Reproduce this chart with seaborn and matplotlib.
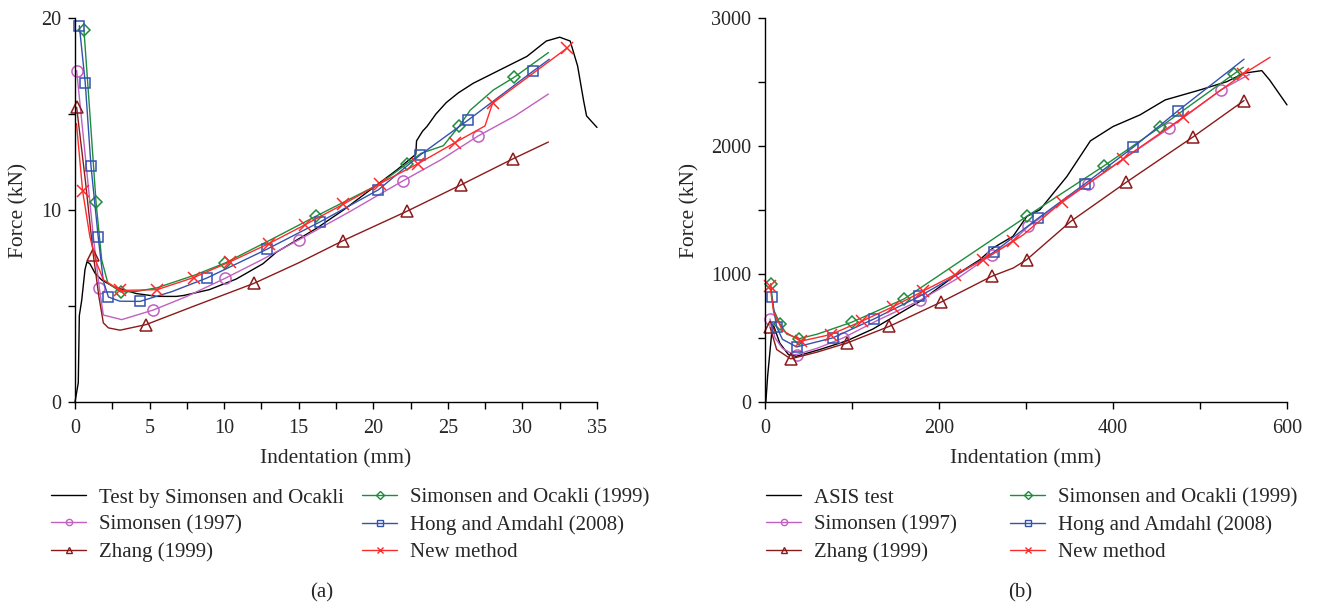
import matplotlib
matplotlib.use('Agg')
import matplotlib.pyplot as plt
from matplotlib.lines import Line2D
from matplotlib.ticker import MultipleLocator
import seaborn as sns
import pandas as pd

# ---- panel (a): Simonsen and Ocakli test ----
test_a_x = [0, 0.22, 0.29, 0.45, 0.67, 0.8, 1.0, 1.35, 1.8, 2.6, 4.1, 5.5, 6.8, 7.3, 9.0, 10.8, 12.6, 13.5, 14.9,
            16.2, 18.0, 19.8, 21.6, 22.85, 22.9, 23.3, 23.6, 24.2, 24.9, 25.7, 26.7, 28.5, 30.3, 31.6, 32.5, 33.2,
            33.7, 34.1, 34.3, 35.0]
test_a_y = [0, 1.0, 4.5, 5.3, 6.9, 7.3, 7.2, 6.7, 6.35, 6.0, 5.65, 5.5, 5.5, 5.55, 5.85, 6.4, 7.2, 7.8, 8.45,
            9.05, 10.0, 11.05, 12.1, 12.9, 13.6, 14.1, 14.35, 15.0, 15.6, 16.1, 16.6, 17.3, 18.0, 18.8, 19.0, 18.8,
            17.5, 15.7, 14.9, 14.3]

sim97_a_x = [0.11, 0.6, 1.23, 1.63, 1.9, 3.13, 5.25, 7.5, 10.06, 12.5, 15.02, 18.5, 21.97, 24.5, 27.04, 29.5, 31.74]
sim97_a_y = [17.26, 13.5, 8.6, 5.94, 4.53, 4.29, 4.79, 5.5, 6.44, 7.4, 8.45, 9.95, 11.51, 12.6, 13.86, 14.9, 16.04]
sim97_a_mk = [0, 3, 6, 8, 10, 12, 14]

zh_a_x = [0.11, 0.7, 1.23, 1.6, 1.9, 2.24, 3.02, 4.76, 8.0, 12.0, 15.0, 17.99, 22.24, 25.88, 29.35, 31.74]
zh_a_y = [15.35, 11.5, 7.65, 5.5, 4.12, 3.86, 3.74, 4.03, 5.0, 6.18, 7.25, 8.41, 9.93, 11.31, 12.66, 13.54]
zh_a_mk = [0, 2, 7, 9, 11, 12, 13, 14]

so_a_x = [0.6, 1.0, 1.41, 1.79, 2.2, 3.06, 4.13, 5.5, 8.0, 10.06, 13.0, 16.14, 20.4, 22.24, 23.2, 24.7, 25.77,
          26.5, 28.05, 29.46, 31.74]
so_a_y = [19.37, 15.0, 10.41, 7.4, 6.2, 5.73, 5.76, 5.95, 6.6, 7.24, 8.4, 9.67, 11.35, 12.4, 12.95, 13.35, 14.38,
          15.2, 16.25, 16.92, 18.2]
so_a_mk = [0, 2, 5, 9, 11, 13, 16, 19]

ha_a_x = [0.29, 0.69, 1.07, 1.56, 1.9, 2.24, 3.0, 4.36, 6.5, 8.85, 12.85, 16.43, 20.34, 23.15, 26.37, 30.73, 31.8]
ha_a_y = [19.6, 16.6, 12.3, 8.57, 6.3, 5.47, 5.25, 5.24, 5.75, 6.46, 7.95, 9.38, 11.05, 12.87, 14.69, 17.24, 17.85]
ha_a_mk = [0, 1, 2, 3, 5, 7, 9, 10, 11, 12, 13, 14, 15]

nm_a_x = [0.1, 0.51, 1.0, 1.45, 1.9, 3.02, 5.5, 7.95, 10.39, 13.0, 15.42, 17.99, 20.45, 23.02, 25.48, 27.49,
          28.0, 32.97]
nm_a_y = [14.5, 11.0, 8.6, 7.24, 6.37, 5.81, 5.85, 6.48, 7.3, 8.25, 9.23, 10.3, 11.38, 12.42, 13.51, 14.38,
          15.56, 18.42]
nm_a_mk = [1, 5, 6, 7, 8, 9, 10, 11, 12, 13, 14, 16, 17]

# ---- panel (b): ASIS test ----
test_b_x = [1, 3, 8, 10, 17, 27, 36, 63, 94, 124, 178, 220, 247, 262, 285, 301, 316, 347, 374, 400, 431, 460,
            500, 531, 550, 571, 580, 600]
test_b_y = [0, 200, 560, 595, 460, 370, 357, 410, 478, 570, 786, 995, 1112, 1203, 1294, 1450, 1502, 1762, 2040,
            2152, 2243, 2360, 2438, 2503, 2568, 2589, 2516, 2321]

sim97_b_x = [5.7, 11.5, 20, 32.5, 36.4, 60, 90, 130, 178, 220, 260.6, 285, 302.7, 371.6, 420, 464.7, 523.8, 557]
sim97_b_y = [649, 501, 420, 371, 371, 420, 501, 640, 794, 960, 1151, 1260, 1372, 1705, 1935, 2139, 2438, 2560]
sim97_b_mk = [0, 4, 6, 8, 10, 12, 13, 15, 16]

zh_b_x = [5.7, 13.4, 29.5, 60, 94.7, 142.9, 201.9, 260.6, 285.4, 300.8, 351.4, 414.9, 491.6, 550.6]
zh_b_y = [587, 410, 337, 390, 462, 591, 779, 982, 1047, 1112, 1411, 1715, 2069, 2355]
zh_b_mk = [0, 2, 4, 5, 6, 7, 9, 10, 11, 12, 13]

so_b_x = [6.5, 10, 17.2, 25, 39.4, 60, 99.6, 159.8, 230, 300.8, 389.7, 454, 539, 549.8]
so_b_y = [924, 720, 612, 530, 495, 530, 623, 805, 1126, 1450, 1845, 2147, 2563, 2615]
so_b_mk = [0, 2, 4, 6, 7, 9, 10, 11, 12]

ha_b_x = [7.7, 13.4, 20, 36.4, 77.8, 125.3, 177.4, 220, 263.2, 314.2, 367.8, 423.4, 475, 550.6]
ha_b_y = [821, 587, 490, 430, 501, 649, 825, 990, 1172, 1437, 1705, 1991, 2277, 2678]
ha_b_mk = [0, 1, 3, 4, 5, 6, 8, 9, 10, 11, 12]

nm_b_x = [5.7, 10, 20, 41, 75.5, 111.1, 146.8, 181.3, 218.4, 251, 285.4, 297, 341, 411.9, 480.8, 549.8, 580.5]
nm_b_y = [909, 700, 560, 475, 527, 631, 743, 865, 995, 1112, 1255, 1307, 1562, 1900, 2225, 2563, 2693]
nm_b_mk = [0, 3, 4, 5, 6, 7, 8, 9, 10, 12, 13, 14, 15]

labels_a = ['Test by Simonsen and Ocakli', 'Simonsen (1997)', 'Zhang (1999)',
            'Simonsen and Ocakli (1999)', 'Hong and Amdahl (2008)', 'New method']
labels_b = ['ASIS test', 'Simonsen (1997)', 'Zhang (1999)',
            'Simonsen and Ocakli (1999)', 'Hong and Amdahl (2008)', 'New method']

sns.set_style('ticks')
plt.rcParams['font.family'] = ['Liberation Serif', 'DejaVu Serif']
plt.rcParams['font.size'] = 15

c_test = 'black'
c_sim = '#C060C0'
c_zh = '#8B1A1A'
c_so = '#1E8C3C'
c_ha = '#3352B0'
c_nm = '#FF2A2A'

styles = [(c_test, None), (c_sim, 'o'), (c_zh, '^'), (c_so, 'D'), (c_ha, 's'), (c_nm, 'x')]
msize = {'o': 8, '^': 8.5, 'D': 6.5, 's': 7.5, 'x': 8.5}


def draw(ax, series):
    for (x, y, mk), (col, m) in zip(series, styles):
        df = pd.DataFrame({'x': x, 'y': y})
        kw = {}
        if m is not None:
            kw = dict(marker=m, markevery=mk, markersize=msize[m], markerfacecolor='none',
                      markeredgecolor=col, markeredgewidth=1.1)
        sns.lineplot(data=df, x='x', y='y', sort=False, estimator=None, color=col, lw=1.0,
                     ax=ax, clip_on=False, **kw)


def style_axes(ax, xmax, ymax, xmaj, xmin, ymaj, ymin):
    sns.despine(ax=ax)
    ax.set_xlim(0, xmax)
    ax.set_ylim(0, ymax)
    ax.xaxis.set_major_locator(MultipleLocator(xmaj))
    ax.xaxis.set_minor_locator(MultipleLocator(xmin))
    ax.yaxis.set_major_locator(MultipleLocator(ymaj))
    ax.yaxis.set_minor_locator(MultipleLocator(ymin))
    ax.tick_params(which='both', direction='out', length=5, width=1, color='black', labelsize=14.5)
    ax.tick_params(axis='x', which='both', pad=7)
    ax.tick_params(axis='y', which='both', pad=5)
    for s in ['left', 'bottom']:
        ax.spines[s].set_linewidth(1)
        ax.spines[s].set_color('black')
    ax.set_xlabel('Indentation (mm)', fontsize=15.5)
    ax.set_ylabel('Force (kN)', fontsize=15.5)


fig = plt.figure(figsize=(13.37, 6.1), dpi=100)
ax1 = fig.add_axes([75 / 1337, 1 - 402 / 610, 522 / 1337, 384 / 610])
ax2 = fig.add_axes([765 / 1337, 1 - 402 / 610, 522 / 1337, 384 / 610])

draw(ax1, [(test_a_x, test_a_y, None), (sim97_a_x, sim97_a_y, sim97_a_mk), (zh_a_x, zh_a_y, zh_a_mk),
           (so_a_x, so_a_y, so_a_mk), (ha_a_x, ha_a_y, ha_a_mk), (nm_a_x, nm_a_y, nm_a_mk)])
draw(ax2, [(test_b_x, test_b_y, None), (sim97_b_x, sim97_b_y, sim97_b_mk), (zh_b_x, zh_b_y, zh_b_mk),
           (so_b_x, so_b_y, so_b_mk), (ha_b_x, ha_b_y, ha_b_mk), (nm_b_x, nm_b_y, nm_b_mk)])

style_axes(ax1, 35, 20, 5, 2.5, 10, 5)
style_axes(ax2, 600, 3000, 200, 100, 1000, 500)
ax1.yaxis.set_label_coords(-0.09, 0.5)
ax2.yaxis.set_label_coords(-0.125, 0.5)
ax1.xaxis.set_label_coords(0.5, -0.122)
ax2.xaxis.set_label_coords(0.5, -0.122)


def handles():
    hs = []
    for col, m in styles:
        if m is None:
            hs.append(Line2D([], [], color=col, lw=1.0))
        else:
            hs.append(Line2D([], [], color=col, lw=1.0, marker=m, markersize=4.5,
                             markerfacecolor='none', markeredgecolor=col, markeredgewidth=1))
    return hs


def add_legends(labels, x1, x2):
    hs = handles()
    for idx, xpos in [([0, 1, 2], x1), ([3, 4, 5], x2)]:
        fig.legend([hs[i] for i in idx], [labels[i] for i in idx], loc='upper left',
                   bbox_to_anchor=(xpos / 1337, 1 - 488 / 610), frameon=False, fontsize=15,
                   handlelength=1.7, handletextpad=0.6, labelspacing=0.36, borderpad=0, borderaxespad=0)


add_legends(labels_a, 51, 362)
add_legends(labels_b, 766, 1010)

fig.text(322 / 1337, 1 - 593 / 610, '(a)', ha='center', va='center', fontsize=15)
fig.text(1020 / 1337, 1 - 593 / 610, '(b)', ha='center', va='center', fontsize=15)

fig.savefig('out.png', dpi=100)
